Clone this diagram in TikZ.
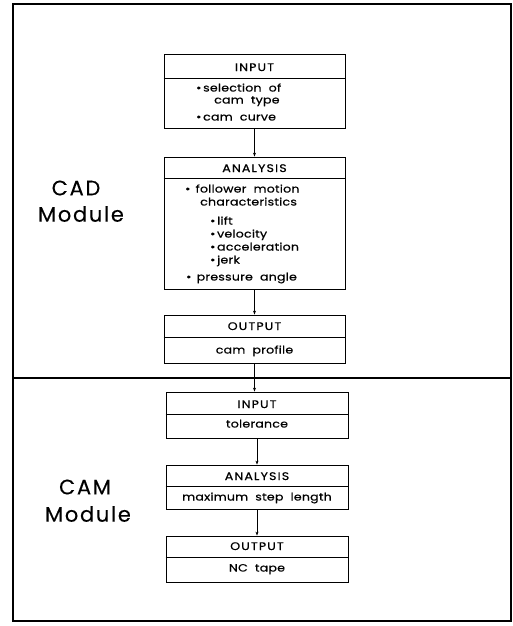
\documentclass[tikz,border=0pt]{standalone}
\usepackage{fontspec}
\setmainfont{Poppins}
\newfontfamily\bodyf[LetterSpace=2, WordSpace=2.0, FakeStretch=1.2, FakeBold=0.6]{Poppins}
\newfontfamily\hdrf[LetterSpace=10, FakeStretch=1.15, FakeBold=0.6]{Poppins}
\newfontfamily\bigf[LetterSpace=8, FakeBold=0.3]{Poppins}
\usetikzlibrary{arrows.meta}
\begin{document}
\begin{tikzpicture}[x=1pt,y=-1pt,
  box/.style={draw, rectangle, line width=0.8pt, inner sep=0pt},
  hdr/.style={inner sep=0pt, text height=8pt, text depth=0pt, font=\hdrf\fontsize{11}{13}\selectfont},
  txt/.style={anchor=west, inner sep=0pt, text height=7pt, text depth=2pt, font=\bodyf\fontsize{10.5}{12}\selectfont},
  ctr/.style={inner sep=0pt, text height=7pt, text depth=2pt, font=\bodyf\fontsize{10.5}{12}\selectfont},
  big/.style={inner sep=0pt, font=\bigf\fontsize{21}{24}\selectfont},
  arr/.style={-{Stealth[length=4pt,width=3pt]}, line width=0.7pt}]
\useasboundingbox (0,0) rectangle (513,626);
% frame
\draw[line width=1.2pt] (13,4) rectangle (511,621);
\draw[line width=1.2pt] (13,378) -- (511,378);
% module labels
\node[big] (cadA) at (76,188) {CAD};
\node[big] (cadB) at (81,214) {Module};
\node[big] (camA) at (85,487) {CAM};
\node[big] (camB) at (88,514) {Module};
% CAD boxes
\node[box, minimum width=181pt, minimum height=74pt] (in1) at (254.5,91) {};
\draw[line width=0.8pt] (in1.west |- 0,78) -- (in1.east |- 0,78);
\node[box, minimum width=181pt, minimum height=132pt] (an1) at (254.5,223) {};
\draw[line width=0.8pt] (an1.west |- 0,178) -- (an1.east |- 0,178);
\node[box, minimum width=181pt, minimum height=48pt] (out1) at (254.5,339) {};
\draw[line width=0.8pt] (out1.west |- 0,337) -- (out1.east |- 0,337);
% CAM boxes
\node[box, minimum width=182pt, minimum height=46pt] (in2) at (257,415) {};
\draw[line width=0.8pt] (in2.west |- 0,414) -- (in2.east |- 0,414);
\node[box, minimum width=182pt, minimum height=44pt] (an2) at (257,487) {};
\draw[line width=0.8pt] (an2.west |- 0,486) -- (an2.east |- 0,486);
\node[box, minimum width=182pt, minimum height=46pt] (out2) at (257,559) {};
\draw[line width=0.8pt] (out2.west |- 0,557) -- (out2.east |- 0,557);
% headers
\node[hdr] (h1) at (254.5,67) {INPUT};
\node[hdr] (h2) at (254.5,168) {ANALYSIS};
\node[hdr] (h3) at (254.5,326) {OUTPUT};
\node[hdr] (h4) at (257,404) {INPUT};
\node[hdr] (h5) at (257,476) {ANALYSIS};
\node[hdr] (h6) at (257,546) {OUTPUT};
% INPUT CAD body
\node[txt] (t1) at (196,89) {\textbullet\,selection of};
\node[txt] (t2) at (214,101) {cam type};
\node[txt] (t3) at (196,118) {\textbullet\,cam curve};
% ANALYSIS CAD body
\node[txt] (t4) at (185,190) {\textbullet\enspace follower motion};
\node[txt] (t5) at (200,203) {characteristics};
\node[txt] (t6) at (210,222) {\textbullet\,lift};
\node[txt] (t7) at (210,235) {\textbullet\,velocity};
\node[txt] (t8) at (210,248) {\textbullet\,acceleration};
\node[txt] (t9) at (210,261) {\textbullet\,jerk};
\node[txt] (t10) at (186,278) {\textbullet\enspace pressure angle};
% other bodies
\node[ctr] (t11) at (254.5,351) {cam profile};
\node[ctr] (t12) at (257,425) {tolerance};
\node[ctr] (t13) at (257,498) {maximum step length};
\node[ctr] (t14) at (257,569) {NC tape};
% arrows
\draw[arr] (in1.south) -- (an1.north);
\draw[arr] (an1.south) -- (out1.north);
\draw[arr] (out1.south) -- (out1.south |- in2.north);
\draw[arr] (in2.south) -- (an2.north);
\draw[arr] (an2.south) -- (out2.north);
\end{tikzpicture}
\end{document}
